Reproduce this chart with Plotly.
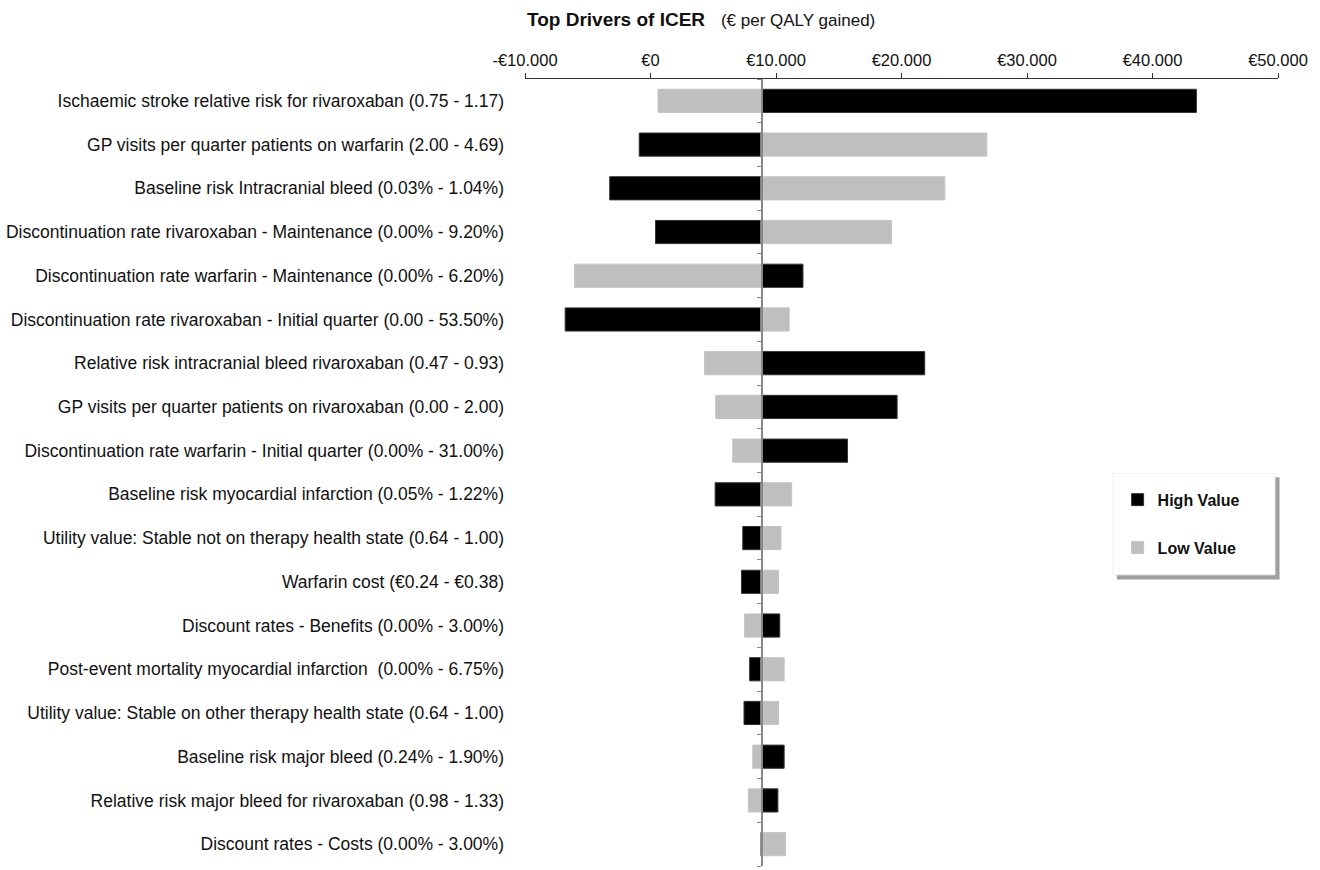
import plotly.graph_objects as go

categories = [
    "Ischaemic stroke relative risk for rivaroxaban (0.75 - 1.17)",
    "GP visits per quarter patients on warfarin (2.00 - 4.69)",
    "Baseline risk Intracranial bleed (0.03% - 1.04%)",
    "Discontinuation rate rivaroxaban - Maintenance (0.00% - 9.20%)",
    "Discontinuation rate warfarin - Maintenance (0.00% - 6.20%)",
    "Discontinuation rate rivaroxaban - Initial quarter (0.00 - 53.50%)",
    "Relative risk intracranial bleed rivaroxaban (0.47 - 0.93)",
    "GP visits per quarter patients on rivaroxaban (0.00 - 2.00)",
    "Discontinuation rate warfarin - Initial quarter (0.00% - 31.00%)",
    "Baseline risk myocardial infarction (0.05% - 1.22%)",
    "Utility value: Stable not on therapy health state (0.64 - 1.00)",
    "Warfarin cost (€0.24 - €0.38)",
    "Discount rates - Benefits (0.00% - 3.00%)",
    "Post-event mortality myocardial infarction  (0.00% - 6.75%)",
    "Utility value: Stable on other therapy health state (0.64 - 1.00)",
    "Baseline risk major bleed (0.24% - 1.90%)",
    "Relative risk major bleed for rivaroxaban (0.98 - 1.33)",
    "Discount rates - Costs (0.00% - 3.00%)",
]

base_icer = 8800

high_values = [43500, -900, -3250, 400, 12150, -6800, 21850, 19650, 15700, 5150,
               7350, 7250, 10300, 7900, 7450, 10650, 10150, 8800]
low_values = [600, 26800, 23450, 19200, -6050, 11050, 4300, 5200, 6550, 11250,
              10400, 10200, 7500, 10650, 10200, 8150, 7800, 10750]

x_tickvals = [-10000, 0, 10000, 20000, 30000, 40000, 50000]


def euro(v):
    s = f"{abs(v):,}".replace(",", ".")
    return ("-" if v < 0 else "") + "€" + s


x_ticktext = [euro(v) for v in x_tickvals]

n = len(categories)
fig = go.Figure()

fig.add_trace(go.Bar(
    y=categories, x=[v - base_icer for v in high_values], base=base_icer,
    orientation="h", name="High Value", width=0.53,
    marker=dict(color="#000000", line=dict(color="#333333", width=1)),
    legendgroup="h",
))
fig.add_trace(go.Bar(
    y=categories, x=[v - base_icer for v in low_values], base=base_icer,
    orientation="h", name="Low Value", width=0.53,
    marker=dict(color="#bfbfbf", line=dict(color="#c4c4c4", width=1)),
    legendgroup="l",
))

# vertical base axis with boundary ticks
fig.add_trace(go.Scatter(x=[None], y=[None], showlegend=False, yaxis="y2"))

fig.update_layout(
    width=1320, height=870,
    margin=dict(l=525, r=42, t=79, b=4),
    plot_bgcolor="white", paper_bgcolor="white",
    barmode="overlay",
    font=dict(family="Liberation Sans, Arial, sans-serif", size=17.5, color="#111111"),
    xaxis=dict(
        side="top", range=[-10000, 50000], tickvals=x_tickvals, ticktext=x_ticktext,
        showgrid=False, zeroline=False, showline=True, linecolor="#333333", linewidth=1,
        ticks="outside", ticklen=5, tickcolor="#333333",
        tickfont=dict(size=16.5, color="#111111"),
    ),
    yaxis=dict(
        range=[n - 0.5, -0.5], showgrid=False, zeroline=False, showline=False,
        ticks="", ticklabelstandoff=20, tickfont=dict(size=17.5, color="#111111"),
    ),
    yaxis2=dict(
        overlaying="y", anchor="free", position=(761.7 - 525) / (1278 - 525),
        range=[n - 0.5, -0.5], tickvals=[i - 0.5 for i in range(n + 1)],
        showticklabels=False, ticks="outside", ticklen=4, tickcolor="#888888",
        showline=True, linecolor="#888888", linewidth=1.5, showgrid=False, zeroline=False,
    ),
    legend=dict(
        x=0.787, y=0.487, xanchor="left", yanchor="top",
        bgcolor="rgba(0,0,0,0)", borderwidth=0,
        traceorder="grouped", tracegroupgap=24,
        font=dict(size=16, color="#111111", weight="bold"),
    ),
    showlegend=True,
)

# legend box with drop shadow
fig.add_shape(type="rect", xref="paper", yref="paper",
              x0=0.786, x1=1.002, y0=0.364, y1=0.494,
              fillcolor="#a0a0a0", line=dict(width=0), layer="below")
fig.add_shape(type="rect", xref="paper", yref="paper",
              x0=0.781, x1=0.996, y0=0.370, y1=0.499,
              fillcolor="white", line=dict(color="#eeeeee", width=1), layer="below")

fig.add_annotation(
    xref="paper", yref="paper", x=0.0, y=(866 - 20) / 787, xanchor="left", yanchor="middle",
    showarrow=False,
    text="<b>Top Drivers of ICER</b>   <span style='font-size:17px'>(€ per QALY gained)</span>",
    font=dict(size=19, color="#111111"),
)

fig.write_html("out.html")
